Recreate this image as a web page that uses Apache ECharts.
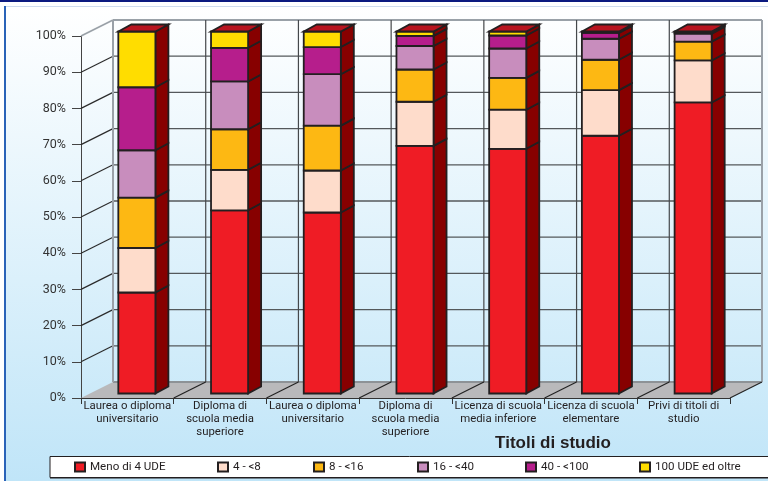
<!DOCTYPE html>
<html>
<head>
<meta charset="utf-8">
<style>html,body{margin:0;padding:0;background:#fff}#c{width:768px;height:481px}</style>
<script src="https://cdn.jsdelivr.net/npm/echarts@6/dist/echarts.min.js"></script>
</head>
<body>
<div id="c"></div>
<script>
const categories = [
  'Laurea o diploma\nuniversitario',
  'Diploma di\nscuola media\nsuperiore',
  'Laurea o diploma\nuniversitario',
  'Diploma di\nscuola media\nsuperiore',
  'Licenza di scuola\nmedia inferiore',
  'Licenza di scuola\nelementare',
  'Privi di titoli di\nstudio'
];
const classNames = ['Meno di 4 UDE', '4 - <8', '8 - <16', '16 - <40', '40 - <100', '100 UDE ed oltre'];
const classColors = ['#ef1c25', '#fedccb', '#fdb813', '#c88dbd', '#b61e8c', '#ffdd00'];
const meno4 = [27.9, 50.6, 50.0, 68.4, 67.6, 71.2, 80.4];
const da4a8 = [12.3, 11.2, 11.6, 12.2, 10.8, 12.6, 11.6];
const da8a16 = [13.9, 11.2, 12.4, 8.9, 8.8, 8.4, 5.2];
const da16a40 = [13.1, 13.2, 14.2, 6.5, 8.1, 5.8, 2.2];
const da40a100 = [17.4, 9.3, 7.5, 2.8, 3.6, 1.6, 0.3];
const oltre100 = [15.4, 4.5, 4.3, 1.2, 1.1, 0.4, 0.3];
const shares = [meno4, da4a8, da8a16, da16a40, da40a100, oltre100];
const valueTicks = [0, 10, 20, 30, 40, 50, 60, 70, 80, 90, 100];
const legendLefts = [74, 217, 313, 417, 525, 639];

// Depth of the pseudo-3D box and of the bars inside it, in pixels
const BOX_DX = 32, BOX_DY = -16;
const BAR_SHIFT_X = 9.5, BAR_SHIFT_Y = -4.5;
const BAR_DX = 13, BAR_DY = -7;

const FONT = 'Roboto, "Liberation Sans", sans-serif';
const TITLE_FONT = '"Liberation Sans", sans-serif';
const chart = echarts.init(document.getElementById('c'), null, {renderer: 'canvas'});

function poly(points, fill, stroke, lw) {
  return {type: 'polygon', shape: {points}, style: {fill, stroke, lineWidth: lw, lineJoin: 'miter'}};
}
function seg(a, b, stroke, lw) {
  return {type: 'line', shape: {x1: a[0], y1: a[1], x2: b[0], y2: b[1]}, style: {stroke, lineWidth: lw}};
}

// Floor, back wall and the slanted gridlines of the box
function renderBox(params, api) {
  const band = api.size([1, 0])[0];
  const n = categories.length;
  const x0 = api.coord([0, 0])[0] - band / 2;
  const x1 = x0 + band * n;
  const y0 = api.coord([0, 0])[1];
  const y100 = api.coord([0, 100])[1];
  const kids = [];
  kids.push(poly([[x0, y0], [x0 + BOX_DX, y0 + BOX_DY], [x1 + BOX_DX, y0 + BOX_DY], [x1, y0]], '#b9b9bb', null, 0));
  valueTicks.forEach(v => {
    const y = api.coord([0, v])[1];
    if (v > 0 && v < 100) kids.push(seg([x0 + BOX_DX, y + BOX_DY], [x1 + BOX_DX, y + BOX_DY], '#54585b', 1.3));
    if (v > 0) kids.push(seg([x0, y], [x0 + BOX_DX, y + BOX_DY], v === 100 ? '#9aa1a8' : '#2a2a2a', v === 100 ? 1.6 : 1.2));
  });
  kids.push(seg([x0 + BOX_DX, y100 + BOX_DY], [x1 + BOX_DX, y100 + BOX_DY], '#9aa1a8', 2));
  kids.push(seg([x0 + BOX_DX, y0 + BOX_DY], [x1 + BOX_DX, y0 + BOX_DY], '#8d9296', 2));
  kids.push(seg([x0 + BOX_DX, y0 + BOX_DY], [x0 + BOX_DX, y100 + BOX_DY], '#9aa1a8', 2));
  kids.push(seg([x1 + BOX_DX, y0 + BOX_DY], [x1 + BOX_DX, y100 + BOX_DY], '#9aa1a8', 2));
  for (let i = 1; i < n; i++) {
    const x = x0 + band * i;
    kids.push(seg([x + BOX_DX, y100 + BOX_DY], [x + BOX_DX, y0 + BOX_DY], '#45484b', 1.2));
    kids.push(seg([x, y0], [x + BOX_DX, y0 + BOX_DY], '#222222', 1.2));
  }
  kids.push(seg([x1, y0], [x1 + BOX_DX, y0 + BOX_DY], '#222222', 1.2));
  return {type: 'group', children: kids};
}

// One stacked segment: front face, right side and, on the last segment, the lid
function renderSegment(params, api) {
  const cat = api.value(0), low = api.value(1), high = api.value(2);
  const width = api.size([1, 0])[0] * 0.4;
  const pLow = api.coord([cat, low]);
  const pHigh = api.coord([cat, high]);
  const l = pLow[0] - width / 2 + BAR_SHIFT_X, r = l + width;
  const yb = pLow[1] + BAR_SHIFT_Y, yt = pHigh[1] + BAR_SHIFT_Y;
  const ink = '#231f20';
  const kids = [
    poly([[r, yb], [r + BAR_DX, yb + BAR_DY], [r + BAR_DX, yt + BAR_DY], [r, yt]], '#870000', ink, 1.8),
    poly([[l, yb], [r, yb], [r, yt], [l, yt]], api.style().fill, ink, 1.8)
  ];
  if (high >= 99.99) {
    kids.push(poly([[l, yt], [r, yt], [r + BAR_DX, yt + BAR_DY], [l + BAR_DX, yt + BAR_DY]], '#b8141f', ink, 1.8));
  }
  return {type: 'group', children: kids};
}

const stackSeries = shares.map((values, s) => {
  const data = values.map((v, c) => {
    let base = 0;
    for (let k = 0; k < s; k++) base += shares[k][c];
    return [c, base, base + v];
  });
  return {
    type: 'custom',
    name: classNames[s],
    renderItem: renderSegment,
    itemStyle: {color: classColors[s], borderColor: '#231f20', borderWidth: 1.5},
    encode: {x: 0, y: [1, 2]},
    data,
    clip: false,
    silent: true,
    z: 5 + s
  };
});

chart.setOption({
  animation: false,
  backgroundColor: '#ffffff',
  textStyle: {fontFamily: FONT},
  title: {
    text: 'Titoli di studio',
    left: 548, top: 430, textAlign: 'center',
    textStyle: {fontFamily: TITLE_FONT, fontSize: 17, fontWeight: 'bold', color: '#231f20'}
  },
  grid: {left: 81, right: 38, top: 36, bottom: 83},
  xAxis: {
    type: 'category',
    data: categories,
    axisLine: {lineStyle: {color: '#333', width: 1}},
    axisTick: {show: true, alignWithLabel: false, length: 6, lineStyle: {color: '#333'}},
    axisLabel: {interval: 0, margin: 2, fontSize: 11.4, lineHeight: 13, color: '#231f20', fontFamily: FONT},
    splitLine: {show: false}
  },
  yAxis: {
    type: 'value',
    min: 0, max: 100, interval: 10,
    axisLine: {show: true, lineStyle: {color: '#444', width: 1}},
    axisTick: {show: true, length: 9, lineStyle: {color: '#444'}},
    axisLabel: {formatter: '{value}%', fontSize: 12.5, margin: 15, color: '#333', fontFamily: FONT, padding: [0, 0, 10, 0]},
    splitLine: {show: false}
  },
  legend: classNames.map((name, i) => ({
    data: [name],
    left: legendLefts[i], top: 461,
    itemWidth: 10, itemHeight: 9, itemGap: 4,
    icon: 'rect',
    textStyle: {fontSize: 11.6, color: '#231f20', fontFamily: FONT},
    padding: 0,
    selectedMode: false,
    z: 20
  })),
  graphic: [
    {type: 'rect', silent: true, z: -10, shape: {x: 5, y: 7, width: 763, height: 474},
      style: {fill: new echarts.graphic.LinearGradient(0, 0, 0, 1, [
        {offset: 0, color: '#ffffff'}, {offset: 1, color: '#c0e5f8'}
      ])}},
    {type: 'rect', silent: true, z: -9, shape: {x: 0, y: 0, width: 768, height: 2}, style: {fill: '#0c1a80'}},
    {type: 'rect', silent: true, z: -9, shape: {x: 4, y: 6, width: 764, height: 1}, style: {fill: '#cfdcee'}},
    {type: 'rect', silent: true, z: -9, shape: {x: 4, y: 6, width: 2, height: 475}, style: {fill: '#2a63b8'}},
    {type: 'rect', silent: true, z: 1, shape: {x: 50, y: 456.5, width: 730, height: 21},
      style: {fill: '#ffffff', stroke: '#231f20', lineWidth: 1}},
    {type: 'rect', silent: true, z: 1, shape: {x: 50, y: 477, width: 730, height: 1.5}, style: {fill: '#231f20'}}
  ],
  series: [
    {type: 'custom', name: 'box', renderItem: renderBox, data: [[0, 0]], encode: {x: 0, y: 1}, clip: false, silent: true, z: 1}
  ].concat(stackSeries)
});
</script>
</body>
</html>
